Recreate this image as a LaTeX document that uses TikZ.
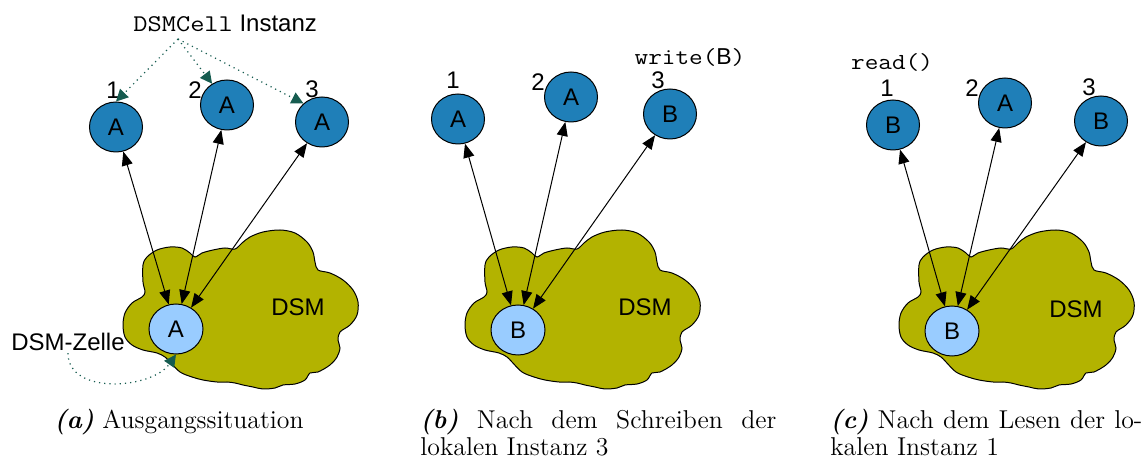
\documentclass[tikz,border=0pt]{standalone}
\usepackage{fontspec}
\setsansfont{Liberation Sans}
\setmonofont[FakeStretch=1.15]{Latin Modern Mono}
\usetikzlibrary{shapes.geometric,arrows.meta,positioning}
\definecolor{cellblue}{RGB}{31,127,184}
\definecolor{lightcell}{RGB}{153,204,255}
\definecolor{dsmolive}{RGB}{179,179,0}
\definecolor{tealdark}{RGB}{22,92,80}

\tikzset{
  dsmcloud/.pic={
    \draw[fill=dsmolive, line width=0.5pt]
      plot[smooth cycle, tension=0.55] coordinates {
        (143,282) (143,265) (147,257) (157,250) (170,247) (182,248)
        (190,253) (195,257) (202,253) (213,250) (225,248) (235,249)
        (242,243) (250,237) (263,232) (280,230) (295,233) (307,242)
        (313,252) (315,262) (318,270) (330,273) (343,280) (353,290)
        (358,302) (357,315) (350,325) (340,332) (338,340) (340,348)
        (337,357) (330,365) (318,372) (310,373) (305,380) (295,384)
        (283,385) (275,388) (263,389) (253,387) (243,385) (235,383)
        (227,382) (217,382) (203,380) (192,377) (180,372) (170,362)
        (165,357) (157,353) (143,350) (132,345) (125,337) (123,325)
        (125,313) (132,303) (142,297) (145,292)};
  }
}

\begin{document}
\begin{tikzpicture}[x=0.5pt, y=-0.5pt,
  inst/.style={ellipse, draw, line width=0.5pt, fill=cellblue,
    minimum width=26.5pt, minimum height=25pt, inner sep=0pt,
    font=\sffamily\fontsize{12}{14}\selectfont},
  dcell/.style={inst, fill=lightcell, minimum width=27pt},
  num/.style={inner sep=0pt, font=\sffamily\fontsize{12}{14}\selectfont},
  lbl/.style={inner sep=1pt, font=\sffamily\fontsize{12}{14}\selectfont},
  code/.style={inner sep=0pt, font=\ttfamily\fontsize{11.5}{13}\selectfont},
  capt/.style={inner sep=0pt, font=\fontsize{12.9}{13.3}\selectfont},
  barr/.style={{Triangle[length=7pt,width=5.5pt]}-{Triangle[length=7pt,width=5.5pt]},
    line width=0.5pt},
  garr/.style={-{Triangle[length=6pt,width=6pt]}, line width=0.6pt,
    tealdark, dotted}
]
\useasboundingbox (0,0) rectangle (1146,459);

\pic at (0,0) {dsmcloud};
\pic at (342,0) {dsmcloud};
\pic at (776,0) {dsmcloud};

\node[inst] (a1) at (116,127) {A};
\node[inst] (a2) at (227,105) {A};
\node[inst] (a3) at (322,122) {A};
\node[dcell] (aC) at (176,329) {A};
\node[num] (a1n) at (113,90) {1};
\node[num] (a2n) at (195,90) {2};
\node[num] (a3n) at (312,89) {3};
\node[lbl] (aD) at (298,307) {DSM};
\node[lbl] (aZ) at (68,342) {DSM-Zelle};
\node[inner sep=0pt, anchor=west] (aI) at (133,23)
  {{\ttfamily\fontsize{12}{14}\selectfont DSMCell}
   \sffamily\fontsize{12}{14}\selectfont Instanz};
\coordinate (aS) at (178,39);
\draw[garr] (aS) -- (a1.north);
\draw[garr] (aS) -- (a2.125);
\draw[garr] (aS) -- (a3.135);
\draw[garr] (aZ.south) to[out=-90, in=-125] (aC.south);
\draw[barr] (a1) -- (aC);
\draw[barr] (a2) -- (aC);
\draw[barr] (a3) -- (aC);

\node[inst] (b1) at (458,119) {A};
\node[inst] (b2) at (571,97) {A};
\node[inst] (b3) at (670,114) {B};
\node[dcell] (bC) at (518,330) {B};
\node[num] (b1n) at (453,80) {1};
\node[num] (b2n) at (538,82) {2};
\node[num] (b3n) at (658,80) {3};
\node[lbl] (bD) at (645,307) {DSM};
\node[code] (bW) at (690,57) {write(\textsf{B})};
\draw[barr] (b1) -- (bC);
\draw[barr] (b2) -- (bC);
\draw[barr] (b3) -- (bC);

\node[inst] (c1) at (893,125) {B};
\node[inst] (c2) at (1005,103) {A};
\node[inst] (c3) at (1101,121) {B};
\node[dcell] (cC) at (952,331) {B};
\node[num] (c1n) at (887,88) {1};
\node[num] (c2n) at (972,88) {2};
\node[num] (c3n) at (1089,87) {3};
\node[lbl] (cD) at (1076,309) {DSM};
\node[code] (cR) at (892,62) {read()};
\draw[barr] (c1) -- (cC);
\draw[barr] (c2) -- (cC);
\draw[barr] (c3) -- (cC);

\node[capt, anchor=base] (capA) at (179,429)
  {\textbf{\textit{(a)}} Ausgangssituation};
\node[capt, anchor=base west, text width=178pt, align=justify] (capB) at (420,429)
  {\textbf{\textit{(b)}} Nach dem Schreiben der\linebreak lokalen Instanz 3};
\node[capt, anchor=base west, text width=156pt, align=justify] (capC) at (830,429)
  {\textbf{\textit{(c)}} Nach dem Lesen der lo-\linebreak kalen Instanz 1};
\end{tikzpicture}
\end{document}
